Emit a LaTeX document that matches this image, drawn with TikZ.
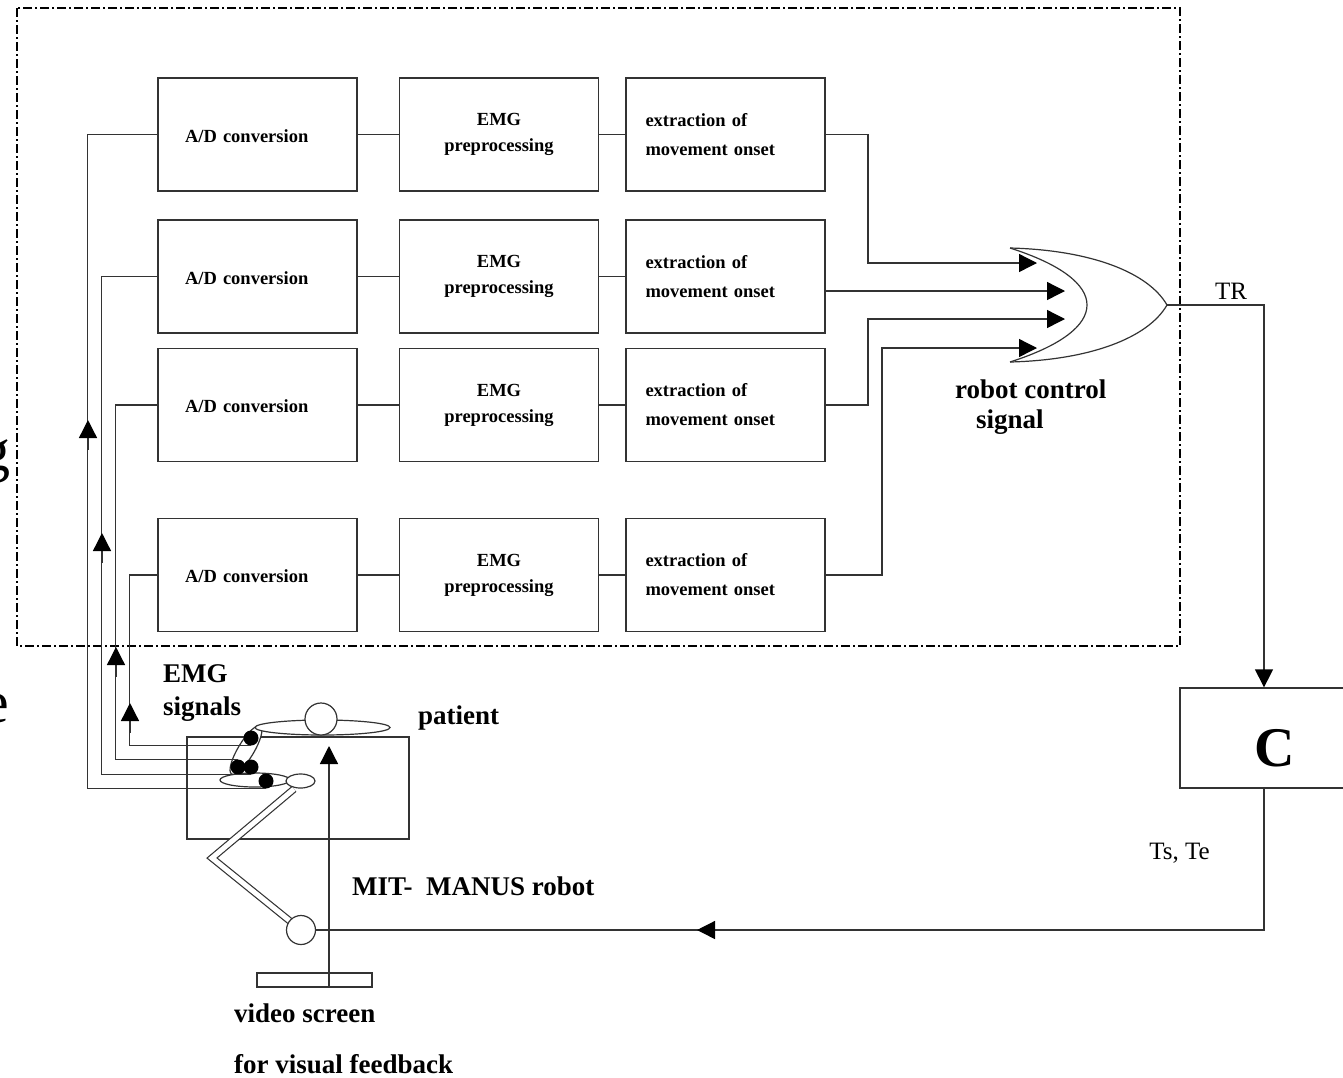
\documentclass[tikz,border=0pt]{standalone}
\usepackage{fontspec}
\setmainfont{Liberation Serif}
\usetikzlibrary{arrows.meta,calc}
\begin{document}
\begin{tikzpicture}[x=1pt,y=-1pt,
  wire/.style={draw=black!80,line width=1.35pt},
  tip/.style={-{Triangle[length=18pt,width=18pt,color=black]}},
  blk/.style={draw=black!80,line width=1.35pt,minimum width=199pt,minimum height=113pt,
    inner sep=0pt,font=\bfseries\fontsize{18.5}{26}\selectfont},
  adblk/.style={blk,text width=145pt,align=left},
  emgblk/.style={blk,align=center},
  exblk/.style={blk,text width=160pt,align=left,font=\bfseries\fontsize{18.5}{29}\selectfont},
  lbl/.style={font=\bfseries\fontsize{27}{30}\selectfont,inner sep=0pt},
  rlbl/.style={font=\fontsize{25}{28}\selectfont,inner sep=0pt},
  dot/.style={circle,fill=black,minimum size=15pt,inner sep=0pt},
  body/.style={draw=black!80,line width=1.2pt,fill=white},
]
\useasboundingbox (0,0) rectangle (1343,1077);
\fill[white] (0,0) rectangle (1343,1077);

% cropped letters at the left margin
\node[font=\fontsize{60}{60}\selectfont,inner sep=0pt,anchor=base east] (gfrag) at (11,470) {g};
\node[font=\fontsize{60}{60}\selectfont,inner sep=0pt,anchor=base east] (efrag) at (9,722) {e};

% processing unit frame
\draw[line width=1.9pt,dash pattern=on 9pt off 3pt on 2pt off 3pt] (17,8) rectangle (1180,646);

% four EMG channels
\foreach \r/\y in {1/134.5,2/276.5,3/405,4/575}{
  \node[adblk,text depth=0pt] (A\r) at (257.5,\y) {\raisebox{-3pt}{A/D conversion}};
  \node[emgblk] (P\r) at (499,\y) {\raisebox{-2pt}{EMG}\\\raisebox{-2pt}{preprocessing}};
  \node[exblk] (X\r) at (725.5,\y) {extraction of\\movement onset};
  \draw[wire] (A\r) -- (P\r);
  \draw[wire] (P\r) -- (X\r);
}

% OR gate
\coordinate (gt) at (1010,248);
\coordinate (gb) at (1010,362);
\coordinate (gout) at (1167,305);
\draw[wire,line width=1.2pt] (gt) .. controls (1060,264) and (1087,284) .. (1087,305)
      .. controls (1087,326) and (1060,346) .. (gb);
\draw[wire,line width=1.2pt] (gt) .. controls (1090,250) and (1148,272) .. (gout)
      .. controls (1148,338) and (1090,360) .. (gb);

\coordinate (in1) at (1037,263);
\coordinate (in2) at (1065,291);
\coordinate (in3) at (1065,319);
\coordinate (in4) at (1037,348);
\draw[wire,tip] (X1.east) -| (868,263) -- (in1);
\draw[wire,tip] (X2.east |- in2) -- (in2);
\draw[wire,tip] (X3.east) -| (868,319) -- (in3);
\draw[wire,tip] (X4.east) -| (882,348) -- (in4);

\node[lbl,anchor=base west] (rc1) at (955,398) {robot control};
\node[lbl,anchor=base west] (rc2) at (976,428) {signal};

% controller
\node[draw=black!80,line width=1.35pt,minimum width=188pt,minimum height=100pt,inner sep=0pt] (C) at (1274,738) {};
\node[font=\bfseries\fontsize{56}{56}\selectfont,inner sep=0pt,anchor=base] (Clbl) at (1275,766) {C};
\coordinate (tr) at (1264,305);
\draw[wire,tip] (gout) -- (tr) -- (tr |- C.north);
\node[rlbl,anchor=base west] (trl) at (1215,299) {TR};
\node[rlbl,anchor=base east] (tse) at (1210,859) {Ts, Te};

% patient table
\node[draw=black!80,line width=1.2pt,minimum width=222pt,minimum height=102pt,inner sep=0pt] (table) at (298,788) {};

% robot arm
\draw[black!80,line width=1.2pt,double=white,double distance=5pt] (294,789) -- (212,858) -- (301,930);
\node[circle,draw=black!80,line width=1.2pt,fill=white,minimum size=29pt,inner sep=0pt] (joint) at (301,930) {};

% patient figure
\draw[body,shift={(246,750)},rotate=59] (0,0) ellipse [x radius=28,y radius=8];
\draw[body] (255,780) ellipse [x radius=35,y radius=7];
\draw[body] (300.5,781) ellipse [x radius=14.5,y radius=7];
\draw[body] (322.5,727.5) ellipse [x radius=67.5,y radius=7.5];
\node[circle,draw=black!80,line width=1.2pt,fill=white,minimum size=32pt,inner sep=0pt] (head) at (321,719) {};

% electrodes and EMG leads
\node[dot] (e1) at (266,781) {};
\node[dot] (e2) at (251,767) {};
\node[dot] (e3) at (238,767) {};
\node[dot] (e4) at (251,738) {};
\foreach \i/\dx/\side in {1/-70/south,2/-56/south,3/-42/north,4/-28/south}
  \draw[wire] (A\i.west) -- ++(\dx,0) |- (e\i.\side);
\foreach \x/\t in {88/420,102/533,116/647,130/703}
  \draw[wire,tip] (\x,\t+30) -- (\x,\t);

% feedback loop to the robot
\draw[wire] (tr |- C.south) -- (1264,930) -- (joint.east);
\draw[wire,tip] (740,930) -- (697,930);

% video screen
\node[draw=black!80,line width=1.2pt,minimum width=115pt,minimum height=14pt,inner sep=0pt] (screen) at (314.5,980) {};
\coordinate (vf) at (329,746);
\draw[wire,tip] (screen.south -| vf) -- (vf);

% labels
\node[lbl,anchor=base west] (emgA) at (163,682) {EMG};
\node[lbl,anchor=base west] (emgB) at (163,715) {signals};
\node[lbl,anchor=base west] (pat) at (418,724) {patient};
\node[lbl,anchor=base west] (mit) at (352,895) {MIT-\ \ MANUS robot};
\node[lbl,anchor=base west] (vs1) at (234,1022) {video screen};
\node[lbl,anchor=base west] (vs2) at (234,1073) {for visual feedback};
\end{tikzpicture}
\end{document}
